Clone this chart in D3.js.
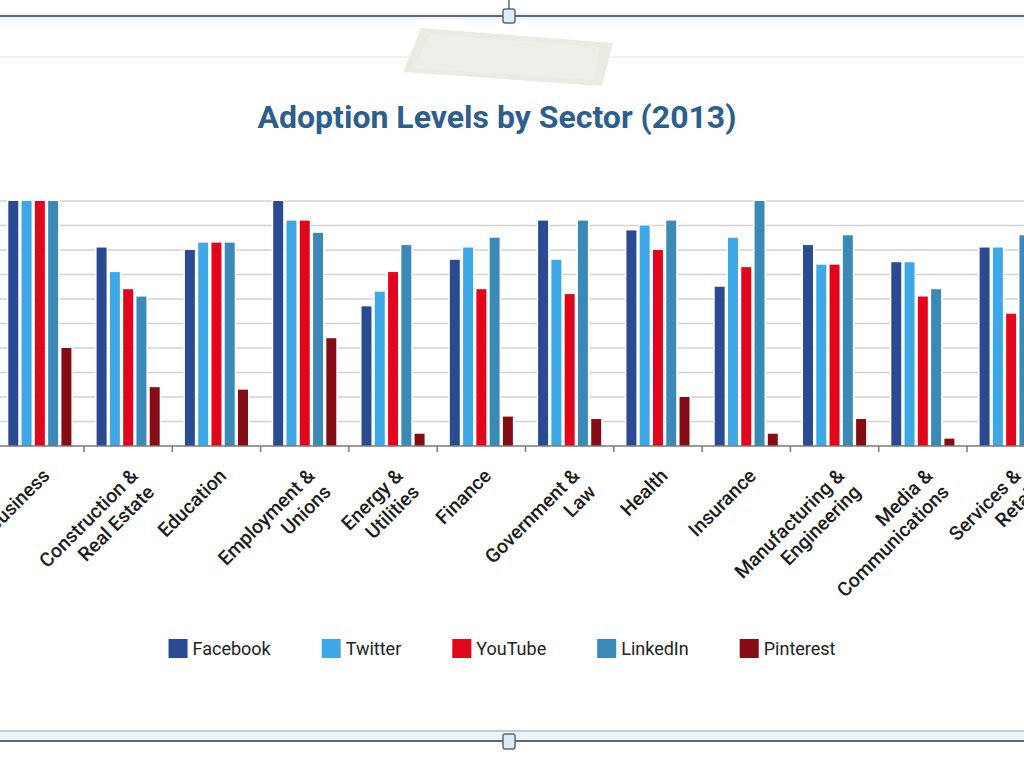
<!DOCTYPE html>
<meta charset="utf-8">
<style>
  body { margin: 0; background: #fff; }
  text { font-family: Roboto, "Noto Sans", sans-serif; }
</style>
<body id="chart"></body>

<script src="https://cdn.jsdelivr.net/npm/d3@7"></script>
<script>
//sectors (line breaks mark the wrapped axis labels)
var sectors = ["Business", "Construction &\nReal Estate", "Education", "Employment &\nUnions",
  "Energy &\nUtilities", "Finance", "Government &\nLaw", "Health", "Insurance",
  "Manufacturing &\nEngineering", "Media &\nCommunications", "Services &\nRetail"];

var networks = ["Facebook", "Twitter", "YouTube", "LinkedIn", "Pinterest"];

//adoption level (%) per sector, one array per network
var facebook  = [100, 81, 80, 100, 57, 76, 92, 88, 65, 82, 75, 81];
var twitter   = [100, 71, 83, 92, 63, 81, 76, 90, 85, 74, 75, 81];
var youtube   = [100, 64, 83, 92, 71, 64, 62, 80, 73, 74, 61, 54];
var linkedin  = [100, 61, 83, 87, 82, 85, 92, 92, 100, 86, 64, 86];
var pinterest = [40, 24, 23, 44, 5, 12, 11, 20, 5, 11, 3, 10];

var colors = ["#2a4a92", "#3ea8e6", "#e2061c", "#3a89b7", "#850b15"];

var width = 1024,
    height = 768;

var series = [facebook, twitter, youtube, linkedin, pinterest];
var rows = sectors.map(function (s, i) {
  return { sector: s, values: networks.map(function (n, j) { return { name: n, value: series[j][i] }; }) };
});

var svg = d3.select("#chart").append("svg")
    .attr("width", width)
    .attr("height", height);

//frame of the picture (top and bottom edges with handles)
svg.append("rect").attr("x", 0).attr("y", 13).attr("width", width).attr("height", 7).attr("fill", "#eef4f9");
svg.append("line").attr("x1", 0).attr("x2", width).attr("y1", 16).attr("y2", 16)
    .attr("stroke", "#5d6a75").attr("stroke-width", 2);
svg.append("line").attr("x1", 509).attr("x2", 509).attr("y1", 0).attr("y2", 10)
    .attr("stroke", "#5d6a75").attr("stroke-width", 1.5);
svg.append("rect").attr("x", 503).attr("y", 9).attr("width", 12).attr("height", 14).attr("rx", 2)
    .attr("fill", "#dcedfa").attr("stroke", "#5d6a75").attr("stroke-width", 1.5);
svg.append("line").attr("x1", 0).attr("x2", width).attr("y1", 57).attr("y2", 57)
    .attr("stroke", "#ececec").attr("stroke-width", 1.5);

svg.append("rect").attr("x", 0).attr("y", 732).attr("width", width).attr("height", 9).attr("fill", "#eef5fa");
svg.append("line").attr("x1", 0).attr("x2", width).attr("y1", 731).attr("y2", 731)
    .attr("stroke", "#c9c9c9").attr("stroke-width", 2);
svg.append("line").attr("x1", 0).attr("x2", width).attr("y1", 741).attr("y2", 741)
    .attr("stroke", "#5d6a75").attr("stroke-width", 2);
svg.append("rect").attr("x", 503).attr("y", 734).attr("width", 12).attr("height", 15).attr("rx", 2)
    .attr("fill", "#dcedfa").attr("stroke", "#5d6a75").attr("stroke-width", 1.5);

//tape strip
svg.append("polygon")
    .attr("points", "421,28 613,43 602,86 403,72")
    .attr("fill", "#ebebe3");
svg.append("polygon")
    .attr("points", "430,34 600,47 594,80 413,68")
    .attr("fill", "#efefe9");

//title
svg.append("text")
    .attr("x", 497)
    .attr("y", 128)
    .attr("text-anchor", "middle")
    .attr("font-size", 32)
    .attr("font-weight", 700)
    .attr("fill", "#2d5f8e")
    .text("Adoption Levels by Sector (2013)");

//scales
var x0 = d3.scaleBand()
    .domain(sectors)
    .range([-4.3, 1055.3]);

var x1 = d3.scaleBand()
    .domain(networks)
    .range([0, x0.bandwidth()])
    .paddingInner(0.25)
    .paddingOuter(0.95);

var y = d3.scaleLinear()
    .domain([0, 100])
    .range([446, 201]);

var color = d3.scaleOrdinal().domain(networks).range(colors);

//gridlines
svg.append("g")
    .selectAll("line")
    .data(y.ticks(10).filter(function (t) { return t > 0; }))
    .enter().append("line")
    .attr("x1", 0)
    .attr("x2", width)
    .attr("y1", function (d) { return y(d); })
    .attr("y2", function (d) { return y(d); })
    .attr("stroke", "#d2d2d2")
    .attr("stroke-width", 1.6);

//bars
svg.append("g")
    .selectAll("g")
    .data(rows)
    .enter().append("g")
    .attr("transform", function (d) { return "translate(" + x0(d.sector) + ",0)"; })
    .selectAll("rect")
    .data(function (d) { return d.values; })
    .enter().append("rect")
    .attr("x", function (d) { return x1(d.name); })
    .attr("y", function (d) { return y(d.value); })
    .attr("width", x1.bandwidth())
    .attr("height", function (d) { return y(0) - y(d.value); })
    .attr("fill", function (d) { return color(d.name); })
    .attr("stroke", "#fff")
    .attr("stroke-width", 3)
    .style("paint-order", "stroke");

//baseline with ticks between sectors
svg.append("line")
    .attr("x1", 0).attr("x2", width)
    .attr("y1", y(0)).attr("y2", y(0))
    .attr("stroke", "#7a7a7a")
    .attr("stroke-width", 1.5);

svg.append("g")
    .selectAll("line")
    .data(sectors.slice(1))
    .enter().append("line")
    .attr("x1", function (d) { return x0(d); })
    .attr("x2", function (d) { return x0(d); })
    .attr("y1", y(0))
    .attr("y2", y(0) + 6)
    .attr("stroke", "#7a7a7a")
    .attr("stroke-width", 1.5);

//rotated sector labels
var labels = svg.append("g")
    .selectAll("text")
    .data(sectors)
    .enter().append("text")
    .attr("transform", function (d) {
      return "translate(" + (x0(d) + x0.bandwidth() / 2 + 11) + "," + 477 + ") rotate(-45)";
    })
    .attr("text-anchor", "end")
    .attr("font-size", 19.5)
    .attr("font-weight", 500)
    .attr("fill", "#1c1c1c");

labels.selectAll("tspan")
    .data(function (d) { return d.split("\n"); })
    .enter().append("tspan")
    .attr("x", 0)
    .attr("dy", function (d, i) { return i ? 23 : 0; })
    .text(function (d) { return d; });

//legend, laid out from the measured label widths
var legend = svg.append("g");
var items = legend.selectAll("g")
    .data(networks)
    .enter().append("g");

items.append("rect")
    .attr("width", 19)
    .attr("height", 19)
    .attr("y", 639)
    .attr("fill", function (d) { return color(d); });

items.append("text")
    .attr("x", 24)
    .attr("y", 655)
    .attr("font-size", 18)
    .attr("font-weight", 400)
    .attr("fill", "#222")
    .text(function (d) { return d; });

var cursor = 0;
items.each(function () {
  var g = d3.select(this);
  g.attr("transform", "translate(" + cursor + ",0)");
  cursor += 24 + g.select("text").node().getComputedTextLength() + 51;
});
var total = cursor - 51;
legend.attr("transform", "translate(" + (502 - total / 2) + ",0)");
</script>
